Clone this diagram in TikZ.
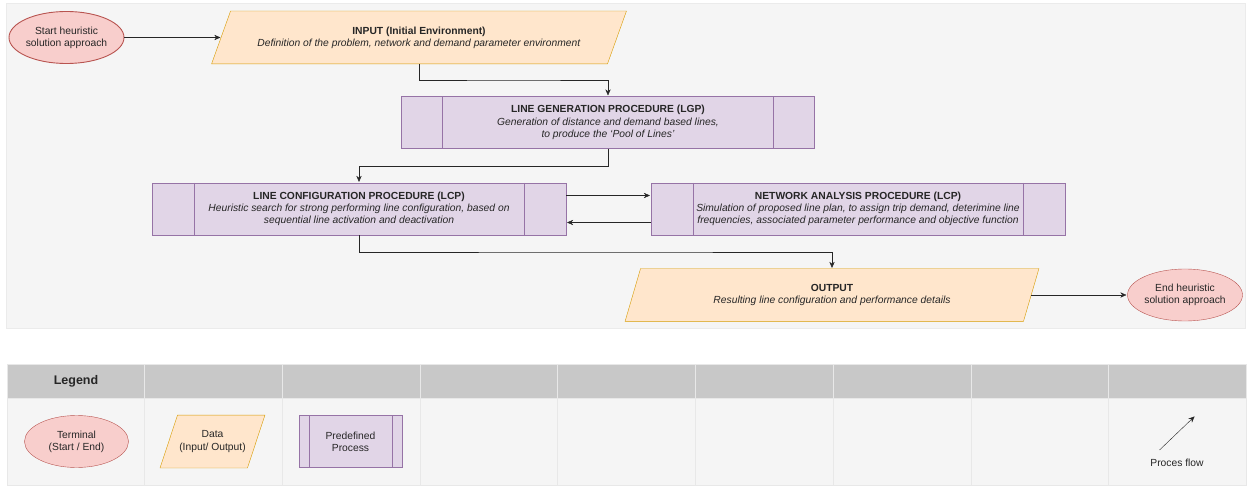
\documentclass[tikz,border=0pt]{standalone}
\usepackage{fontspec}
\setmainfont{Liberation Sans}
\usetikzlibrary{shapes.geometric,calc,arrows.meta,backgrounds}

\definecolor{termfill}{HTML}{F8CECC}
\definecolor{termline}{HTML}{B85450}
\definecolor{datafill}{HTML}{FFE6CC}
\definecolor{dataline}{HTML}{D79B00}
\definecolor{procfill}{HTML}{E1D5E7}
\definecolor{procline}{HTML}{9673A6}
\definecolor{panelfill}{HTML}{F5F5F5}
\definecolor{headfill}{HTML}{C8C8C8}

\begin{document}
\begin{tikzpicture} [x=1pt,y=-1pt,line width=0.9pt,>={Stealth[length=7.5pt,width=6.5pt]},
			every node/.style={font=\fontsize{10.3}{12.3}\selectfont,text=black!85,align=center,inner sep=0pt},
			terminal/.style={ellipse,draw=termline,fill=termfill,minimum width=104pt,minimum height=52pt},
			data/.style 2 args={rectangle,minimum width=#1,minimum height=52pt,
				append after command={\pgfextra{\begin{pgfonlayer}{background}
					\draw[dataline,fill=datafill] ([xshift=#2]\tikzlastnode.north west) -- (\tikzlastnode.north east)
						-- ([xshift=-#2]\tikzlastnode.south east) -- (\tikzlastnode.south west) -- cycle;
					\end{pgfonlayer}}}},
			predefined/.style 2 args={rectangle,draw=procline,fill=procfill,minimum width=#1,minimum height=52pt,
				path picture={\draw[procline] ([xshift=#2]path picture bounding box.north west) -- ([xshift=#2]path picture bounding box.south west)
					([xshift=-#2]path picture bounding box.north east) -- ([xshift=-#2]path picture bounding box.south east);}},
			flow/.style={->,black!85},
			cellline/.style={draw=black!9}]

		\useasboundingbox (0,0) rectangle (1256,486);
		\begin{scope}[on background layer]
			\fill[panelfill,draw=black!8] (6,3) rectangle (1245,328);
			\foreach \i in {0,...,8} {
				\fill [headfill,cellline] ({7+\i*137.67},364) rectangle ++(137.67,34);
				\fill [panelfill,cellline] ({7+\i*137.67},398) rectangle ++(137.67,87);
			}
		\end{scope}

		\node [terminal] (start) at (66.5,37.5) {Start heuristic\\solution approach};
		\node [data={414pt}{19pt}] (input) at (419,37.5) {\textbf{INPUT (Initial Environment)}\\\textit{Definition of the problem, network and demand parameter environment}};
		\node [predefined={413pt}{41pt}] (lgp) at (608,122.5) {\textbf{LINE GENERATION PROCEDURE (LGP)}\\\textit{Generation of distance and demand based lines,}\\\textit{to produce the `Pool of Lines'}};
		\node [predefined={414pt}{42pt}] (lcp) at (359,209) {\textbf{LINE CONFIGURATION PROCEDURE (LCP)}\\\textit{Heuristic search for strong performing line configuration, based on}\\\textit{sequential line activation and deactivation}};
		\node [predefined={414pt}{42pt}] (nap) at (858,209) {\textbf{NETWORK ANALYSIS PROCEDURE (LCP)}\\\textit{Simulation of proposed line plan, to assign trip demand, deterimine line}\\\textit{frequencies, associated parameter performance and objective function}};
		\node [data={413pt}{15.5pt}] (output) at (832,295) {\textbf{OUTPUT}\\\textit{Resulting line configuration and performance details}};
		\node [terminal] (end) at (1185,295) {End heuristic\\solution approach};

		\draw [flow] (start.east) -- ([xshift=9.5pt]input.west);
		\draw [flow] (input.south) |- ($(input.south)!.5!(lgp.north)$) -| (lgp.north);
		\draw [flow] (lgp.south) |- ($(lgp.south)!.5!(lcp.north)$) -| (lcp.north);
		\draw [flow] ([yshift=13.5pt]lcp.east) -- ([yshift=13.5pt]nap.west);
		\draw [flow] ([yshift=-13.5pt]nap.west) -- ([yshift=-13.5pt]lcp.east);
		\draw [flow] (lcp.south) |- ($(lcp.south)!.5!(output.north)$) -| (output.north);
		\draw [flow] ([xshift=-7.75pt]output.east) -- (end.west);

		\node [font=\fontsize{12.5}{15}\selectfont\bfseries] (legend) at (76,381) {Legend};
		\node [terminal] (lterm) at (76.5,441.5) {Terminal\\(Start / End)};
		\node [data={104pt}{17.5pt}] (ldata) at (212.5,441.5) {Data\\(Input/ Output)};
		\node [predefined={103pt}{10pt}] (lproc) at (350.5,441.5) {Predefined\\Process};
		\coordinate (ftail) at (1159.5,450);
		\coordinate (fhead) at (1195,416);
		\draw [flow] (ftail) -- (fhead);
		\node (flowlabel) at (1177,463) {Proces flow};

		\end{tikzpicture}
\end{document}
